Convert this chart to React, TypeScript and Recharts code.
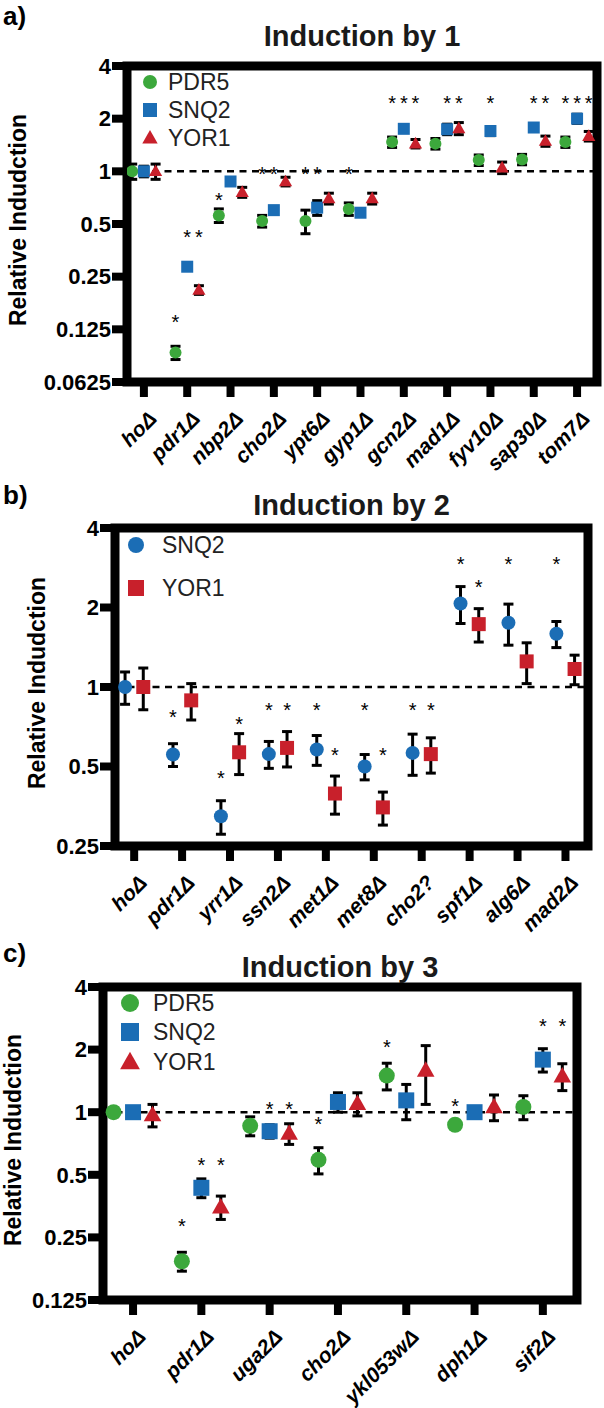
import React from "react"
import { ScatterChart, Scatter, XAxis, YAxis, ErrorBar, ReferenceLine, ReferenceArea } from "recharts"

const FONT = '"Liberation Sans", Arial, Helvetica, sans-serif'
const GREEN = "#3CA83C"
const BLUE = "#1B6DB5"
const RED = "#C8202B"

// ---- panel a: induction by 1 ----
const catsA = ["hoΔ", "pdr1Δ", "nbp2Δ", "cho2Δ", "ypt6Δ", "gyp1Δ", "gcn2Δ", "mad1Δ", "fyv10Δ", "sap30Δ", "tom7Δ"]
const pdr5A = [1.0, 0.092, 0.56, 0.52, 0.52, 0.61, 1.47, 1.44, 1.16, 1.17, 1.47]
const pdr5ErrA = [0.1, 0.008, 0.05, 0.04, 0.08, 0.05, 0.1, 0.1, 0.08, 0.08, 0.1]
const snq2A = [1.0, 0.285, 0.875, 0.6, 0.62, 0.58, 1.75, 1.74, 1.7, 1.78, 2.0]
const snq2ErrA = [0.07, 0.01, 0.04, 0.03, 0.06, 0.02, 0.05, 0.12, 0.1, 0.04, 0.12]
const yor1A = [1.0, 0.21, 0.76, 0.875, 0.7, 0.7, 1.44, 1.76, 1.05, 1.49, 1.59]
const yor1ErrA = [0.1, 0.012, 0.05, 0.05, 0.05, 0.05, 0.08, 0.14, 0.08, 0.1, 0.1]
const sigPdr5A = [null, 0.145, 0.72, 1.02, 1.02, 1.02, 2.6, null, null, null, 2.6]
const sigSnq2A = [null, 0.447, null, 1.02, 1.02, null, 2.6, 2.6, 2.6, 2.6, 2.6]
const sigYor1A = [null, 0.447, null, null, null, null, 2.6, 2.6, null, 2.6, 2.6]
const ticksA = [0.0625, 0.125, 0.25, 0.5, 1, 2, 4]

// ---- panel b: induction by 2 ----
const catsB = ["hoΔ", "pdr1Δ", "yrr1Δ", "ssn2Δ", "met1Δ", "met8Δ", "cho2?", "spf1Δ", "alg6Δ", "mad2Δ"]
const snq2B = [1.0, 0.555, 0.324, 0.557, 0.58, 0.5, 0.563, 2.07, 1.75, 1.59]
const snq2ErrB = [0.14, 0.055, 0.047, 0.065, 0.075, 0.055, 0.1, 0.33, 0.31, 0.18]
const yor1B = [1.0, 0.89, 0.566, 0.588, 0.395, 0.35, 0.557, 1.73, 1.25, 1.17]
const yor1ErrB = [0.18, 0.14, 0.1, 0.09, 0.065, 0.05, 0.085, 0.25, 0.22, 0.15]
const sigSnq2B = [null, 0.8, 0.47, 0.85, 0.85, 0.85, 0.85, 3.03, 3.03, 3.03]
const sigYor1B = [null, null, 0.75, 0.85, 0.57, 0.57, 0.85, 2.47, null, null]
const ticksB = [0.25, 0.5, 1, 2, 4]

// ---- panel c: induction by 3 ----
const catsC = ["hoΔ", "pdr1Δ", "uga2Δ", "cho2Δ", "ykl053wΔ", "dph1Δ", "sif2Δ"]
const pdr5C = [1.0, 0.192, 0.86, 0.59, 1.5, 0.87, 1.06]
const pdr5ErrC = [0.05, 0.02, 0.09, 0.085, 0.22, 0.02, 0.14]
const snq2C = [1.0, 0.433, 0.81, 1.12, 1.14, 1.0, 1.79]
const snq2ErrC = [0.06, 0.045, 0.06, 0.12, 0.22, 0.05, 0.23]
const yor1C = [0.97, 0.35, 0.79, 1.1, 1.59, 1.06, 1.49]
const yor1ErrC = [0.12, 0.045, 0.09, 0.14, 0.5, 0.15, 0.22]
const sigPdr5C = [null, 0.295, null, 0.92, 2.16, 1.12, null]
const sigSnq2C = [null, 0.58, 1.08, null, null, null, 2.7]
const sigYor1C = [null, 0.58, 1.08, null, null, null, 2.7]
const ticksC = [0.125, 0.25, 0.5, 1, 2, 4]

type Shape = "circle" | "square" | "triangle"
type SeriesDef = {
  name: string
  color: string
  shape: Shape
  values: number[]
  errs: number[]
  sig: (number | null)[]
  offset: number
}

function Mark({ shape, cx, cy, size, color }: { shape: Shape; cx: number; cy: number; size: number; color: string }) {
  if (shape === "circle") return <circle cx={cx} cy={cy} r={size / 2} fill={color} />
  if (shape === "square") return <rect x={cx - size / 2} y={cy - size / 2} width={size} height={size} fill={color} />
  const h = size * 0.95
  return (
    <polygon
      points={`${cx},${cy - h * 0.6} ${cx + size * 0.55},${cy + h * 0.42} ${cx - size * 0.55},${cy + h * 0.42}`}
      fill={color}
    />
  )
}

// rotated, bold italic category names under each tick
function CatTick(props: any) {
  const { x, y, payload, cats, dx, dy } = props
  const ax = x + dx
  const ay = y + dy
  return (
    <text
      x={ax}
      y={ay}
      transform={`rotate(-45 ${ax} ${ay})`}
      textAnchor="end"
      fontFamily={FONT}
      fontWeight="bold"
      fontStyle="italic"
      fontSize={21}
      fill="#000"
    >
      {cats[payload.value]}
    </text>
  )
}

type PanelProps = {
  letter: string
  title: string
  titleY: number
  top: number
  height: number
  plot: { left: number; top: number; right: number; bottom: number }
  domainX: [number, number]
  yTicks: number[]
  cats: string[]
  series: SeriesDef[]
  size: number
  legend: { x: number; ys: number[]; textX: number }
  yTitle: { x: number; y: number }
}

function Panel(p: PanelProps) {
  const { plot, top, height } = p
  const W = 604
  const xTicks = p.cats.map((_, i) => i)
  return (
    <div style={{ position: "absolute", left: 0, top, width: W, height }}>
      <div
        style={{
          position: "absolute",
          left: 3,
          top: 1,
          fontFamily: FONT,
          fontWeight: "bold",
          fontSize: 26,
          lineHeight: "30px",
        }}
      >
        {p.letter}
      </div>
      <ScatterChart
        width={W}
        height={height}
        margin={{ top: plot.top - top, right: W - plot.right, left: 0, bottom: 0 }}
      >
        <XAxis
          type="number"
          dataKey="x"
          domain={p.domainX}
          ticks={xTicks}
          interval={0}
          allowDataOverflow
          axisLine={false}
          tickLine={{ stroke: "#000", strokeWidth: 8 }}
          tickSize={15}
          height={top + height - plot.bottom}
          tick={<CatTick cats={p.cats} dx={14} dy={21} />}
        />
        <YAxis
          type="number"
          dataKey="y"
          scale="log"
          domain={[p.yTicks[0], p.yTicks[p.yTicks.length - 1]]}
          ticks={p.yTicks}
          interval={0}
          allowDataOverflow
          axisLine={false}
          tickLine={{ stroke: "#000", strokeWidth: 8 }}
          tickSize={15}
          tickMargin={1}
          width={plot.left}
          tick={{ fill: "#000", fontFamily: FONT, fontWeight: "bold", fontSize: 22 }}
        />
        <ReferenceLine y={1} stroke="#000" strokeWidth={2.5} strokeDasharray="7 5.5" />
        {p.series.map((s) => (
          <Scatter
            key={s.name}
            name={s.name}
            data={s.values.map((v, i) => ({ x: i + s.offset, y: v, err: s.errs[i] }))}
            isAnimationActive={false}
            shape={(q: any) => <Mark shape={s.shape} cx={q.cx} cy={q.cy} size={p.size} color={s.color} />}
          >
            <ErrorBar dataKey="err" direction="y" width={5} stroke="#000" strokeWidth={3} />
          </Scatter>
        ))}
        {p.series.map((s) => (
          <Scatter
            key={s.name + "-sig"}
            name={s.name + " sig"}
            legendType="none"
            data={s.sig
              .map((v, i) => (v == null ? null : { x: i + s.offset, y: v }))
              .filter((d) => d != null)}
            isAnimationActive={false}
            shape={(q: any) => (
              <text x={q.cx} y={q.cy + 11} textAnchor="middle" fontFamily={FONT} fontSize={20} fill="#000">
                *
              </text>
            )}
          />
        ))}
        <ReferenceArea
          x1={p.domainX[0]}
          x2={p.domainX[1]}
          y1={p.yTicks[0]}
          y2={p.yTicks[p.yTicks.length - 1]}
          fill="none"
          fillOpacity={0}
          stroke="#000"
          strokeWidth={9}
          ifOverflow="visible"
        />
      </ScatterChart>
      <div
        style={{
          position: "absolute",
          left: plot.left - 20,
          width: plot.right - plot.left + 40,
          top: p.titleY - top - 18,
          textAlign: "center",
          fontFamily: FONT,
          fontWeight: "bold",
          fontSize: 29,
          lineHeight: "36px",
          color: "#1a1a1a",
        }}
      >
        {p.title}
      </div>
      <div
        style={{
          position: "absolute",
          left: p.yTitle.x,
          top: p.yTitle.y - top,
          transform: "translate(-50%, -50%) rotate(-90deg)",
          whiteSpace: "nowrap",
          fontFamily: FONT,
          fontWeight: "bold",
          fontSize: 23,
        }}
      >
        Relative Indudction
      </div>
      {p.series.map((s, i) => (
        <div key={s.name} style={{ position: "absolute", left: 0, top: p.legend.ys[i] - top, width: 0, height: 0 }}>
          <svg
            width={24}
            height={24}
            style={{ position: "absolute", left: p.legend.x - 12, top: -12, overflow: "visible" }}
          >
            <Mark shape={s.shape} cx={12} cy={12} size={p.size + 2} color={s.color} />
          </svg>
          <div
            style={{
              position: "absolute",
              left: p.legend.textX,
              top: -14,
              fontFamily: FONT,
              fontSize: 23,
              lineHeight: "28px",
              color: "#222",
              whiteSpace: "nowrap",
            }}
          >
            {s.name}
          </div>
        </div>
      ))}
    </div>
  )
}

export default function App() {
  const seriesA: SeriesDef[] = [
    { name: "PDR5", color: GREEN, shape: "circle", values: pdr5A, errs: pdr5ErrA, sig: sigPdr5A, offset: -0.27 },
    { name: "SNQ2", color: BLUE, shape: "square", values: snq2A, errs: snq2ErrA, sig: sigSnq2A, offset: 0 },
    { name: "YOR1", color: RED, shape: "triangle", values: yor1A, errs: yor1ErrA, sig: sigYor1A, offset: 0.27 },
  ]
  const seriesB: SeriesDef[] = [
    { name: "SNQ2", color: BLUE, shape: "circle", values: snq2B, errs: snq2ErrB, sig: sigSnq2B, offset: -0.19 },
    { name: "YOR1", color: RED, shape: "square", values: yor1B, errs: yor1ErrB, sig: sigYor1B, offset: 0.19 },
  ]
  const seriesC: SeriesDef[] = [
    { name: "PDR5", color: GREEN, shape: "circle", values: pdr5C, errs: pdr5ErrC, sig: sigPdr5C, offset: -0.285 },
    { name: "SNQ2", color: BLUE, shape: "square", values: snq2C, errs: snq2ErrC, sig: sigSnq2C, offset: 0 },
    { name: "YOR1", color: RED, shape: "triangle", values: yor1C, errs: yor1ErrC, sig: sigYor1C, offset: 0.285 },
  ]
  return (
    <div style={{ position: "absolute", left: 0, top: 0, width: 604, height: 1408, background: "#fff" }}>
      <Panel
        letter="a)"
        title="Induction by 1"
        titleY={36}
        top={0}
        height={520}
        plot={{ left: 127, top: 66, right: 597, bottom: 382 }}
        domainX={[-0.39, 10.46]}
        yTicks={ticksA}
        cats={catsA}
        series={seriesA}
        size={12}
        legend={{ x: 150, ys: [82, 110, 138], textX: 168 }}
        yTitle={{ x: 18, y: 220 }}
      />
      <Panel
        letter="b)"
        title="Induction by 2"
        titleY={505}
        top={479}
        height={500}
        plot={{ left: 115, top: 528, right: 588, bottom: 846 }}
        domainX={[-0.4, 9.47]}
        yTicks={ticksB}
        cats={catsB}
        series={seriesB}
        size={14}
        legend={{ x: 136, ys: [545, 588], textX: 162 }}
        yTitle={{ x: 37, y: 683 }}
      />
      <Panel
        letter="c)"
        title="Induction by 3"
        titleY={967}
        top={937}
        height={471}
        plot={{ left: 103, top: 987, right: 577, bottom: 1300 }}
        domainX={[-0.44, 6.5]}
        yTicks={ticksC}
        cats={catsC}
        series={seriesC}
        size={16}
        legend={{ x: 130, ys: [1003, 1032, 1062], textX: 153 }}
        yTitle={{ x: 13, y: 1140 }}
      />
    </div>
  )
}
